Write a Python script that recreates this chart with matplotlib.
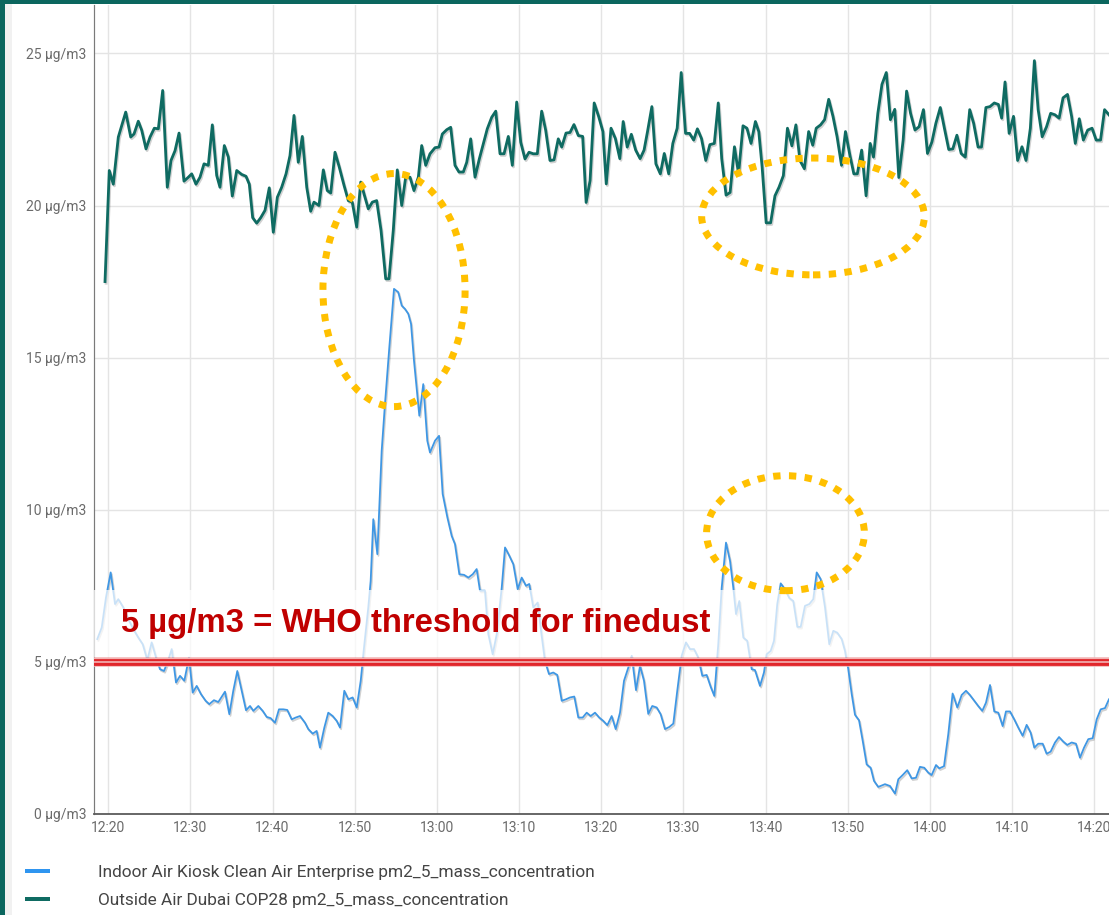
import matplotlib
matplotlib.use("Agg")
import matplotlib.pyplot as plt
from matplotlib.patches import Ellipse, Rectangle
from matplotlib.lines import Line2D
import matplotlib.patheffects as pe

# ---------------- data (time = minutes after 12:00, values in µg/m3) ----------------
tick_labels = ["12:20", "12:30", "12:40", "12:50", "13:00", "13:10", "13:20",
               "13:30", "13:40", "13:50", "14:00", "14:10", "14:20"]
y_ticks = [0, 5, 10, 15, 20, 25]

series_names = ["Indoor Air Kiosk Clean Air Enterprise pm2_5_mass_concentration",
                "Outside Air Dubai COP28 pm2_5_mass_concentration"]

outdoor_minutes = [
    19.61, 20.13, 20.62, 21.23, 22.13, 22.74, 23.14, 23.66, 24.08, 24.6,
    25.09, 25.61, 26.1, 26.63, 27.19, 27.64, 28.13, 28.62, 29.22, 29.75,
    30.16, 30.68, 31.17, 31.66, 32.18, 32.67, 33.2, 33.6, 34.13, 34.62,
    35.1, 35.64, 36.25, 36.77, 37.17, 37.58, 38.07, 38.56, 39.08, 39.6,
    40.09, 40.58, 41.11, 41.64, 42.12, 42.61, 43.13, 43.62, 44.16, 44.64,
    45.04, 45.65, 46.18, 46.66, 47.08, 47.6, 48.12, 48.69, 49.22, 49.7,
    50.24, 50.73, 51.13, 51.65, 52.14, 52.67, 53.2, 53.77, 54.17, 54.69,
    55.18, 55.72, 56.2, 56.73, 57.21, 57.74, 58.15, 58.64, 59.16, 59.77,
    60.26, 60.66, 61.19, 61.68, 62.2, 62.69, 63.21, 63.63, 64.11, 64.64,
    65.16, 65.65, 66.13, 66.67, 67.16, 67.68, 68.17, 68.69, 69.18, 69.71,
    70.2, 70.72, 71.21, 71.73, 72.22, 72.75, 73.24, 73.76, 74.25, 74.77,
    75.19, 75.71, 76.2, 76.68, 77.21, 77.74, 78.16, 78.64, 79.14, 79.68,
    80.2, 80.61, 81.19, 81.72, 82.26, 82.67, 83.16, 83.66, 84.19, 84.73,
    85.21, 85.63, 86.16, 86.65, 87.19, 87.67, 88.21, 88.71, 89.24, 89.73,
    90.26, 90.75, 91.25, 91.7, 92.2, 92.72, 93.22, 93.76, 94.24, 94.66,
    95.19, 95.68, 96.21, 96.71, 97.25, 97.73, 98.23, 98.76, 99.17, 99.58,
    100.07, 100.61, 101.14, 101.63, 102.16, 102.66, 103.2, 103.69, 104.18, 104.72,
    105.24, 105.74, 106.16, 106.69, 107.18, 107.68, 108.2, 108.7, 109.24, 109.72,
    110.26, 110.74, 111.16, 111.69, 112.23, 112.73, 113.13, 113.66, 114.16, 114.69,
    115.19, 115.72, 116.21, 116.74, 117.16, 117.64, 118.18, 118.68, 119.21, 119.7,
    120.24, 120.72, 121.26, 121.76, 122.29, 122.78, 123.28, 123.8, 124.3, 124.84,
    125.32, 125.86, 126.27, 126.81, 127.3, 127.83, 128.33, 128.73, 129.14, 129.64,
    130.17, 130.67, 131.2, 131.69, 132.22, 132.71, 133.17, 133.66, 134.19, 134.69,
    135.22, 135.72, 136.2, 136.74, 137.24, 137.69, 138.17, 138.67, 139.2, 139.73,
    140.23, 140.76, 141.25, 141.79,
]
outdoor_pm25 = [
    17.5, 21.15, 20.7, 22.25, 23.07, 22.25, 22.35, 22.77, 22.47, 21.86,
    22.25, 22.54, 22.52, 23.78, 20.6, 21.48, 21.8, 22.38, 20.8, 20.93,
    21.04, 20.7, 20.93, 21.37, 21.32, 22.65, 20.99, 20.6, 21.97, 21.59,
    20.31, 21.15, 21.02, 20.96, 20.7, 19.6, 19.42, 19.6, 19.84, 20.58,
    19.12, 20.27, 20.6, 21.04, 21.64, 22.96, 21.42, 22.27, 20.6, 19.81,
    20.11, 20.0, 21.17, 20.49, 20.41, 21.75, 21.26, 20.67, 20.16, 20.11,
    19.29, 20.77, 20.38, 19.89, 20.11, 20.16, 19.18, 17.59, 17.59, 19.18,
    21.17, 20.0, 20.93, 20.93, 20.49, 20.93, 21.97, 21.32, 21.7, 21.9,
    21.92, 22.35, 22.49, 22.57, 21.32, 21.1, 21.1, 21.42, 22.19, 20.93,
    21.53, 22.03, 22.52, 22.9, 23.1, 21.7, 21.7, 22.27, 21.32, 23.4,
    22.08, 21.53, 21.75, 21.7, 21.7, 23.1, 22.47, 21.48, 21.5, 22.19,
    21.92, 22.38, 22.4, 22.66, 22.3, 22.27, 20.1, 20.82, 23.37, 22.93,
    22.43, 20.71, 22.54, 22.2, 21.54, 22.76, 21.92, 22.34, 21.82, 21.54,
    21.82, 22.43, 23.25, 21.37, 21.04, 21.71, 21.04, 22.04, 22.54, 24.37,
    22.37, 22.37, 22.15, 22.52, 22.2, 21.48, 22.0, 22.04, 23.37, 21.54,
    20.34, 20.43, 21.93, 21.04, 22.62, 22.54, 22.04, 22.76, 22.43, 21.26,
    19.43, 19.43, 20.32, 20.6, 20.98, 22.54, 21.96, 22.65, 21.48, 21.21,
    22.43, 21.98, 22.54, 22.65, 22.82, 23.49, 22.93, 22.26, 21.32, 22.43,
    21.65, 21.04, 21.04, 21.82, 20.32, 22.04, 21.59, 23.03, 23.98, 24.37,
    22.82, 23.16, 20.92, 22.15, 23.76, 23.03, 22.48, 22.59, 23.15, 21.71,
    22.09, 22.7, 23.22, 22.54, 21.84, 21.86, 22.31, 21.71, 21.59, 23.15,
    22.7, 21.92, 21.92, 23.22, 23.25, 23.37, 23.32, 22.87, 24.06, 22.37,
    22.93, 21.48, 21.93, 21.48, 22.54, 24.76, 23.15, 22.26, 22.59, 23.03,
    22.98, 22.87, 23.54, 23.65, 22.93, 22.04, 22.85, 22.15, 22.48, 22.54,
    22.15, 22.15, 23.15, 22.98,
]

indoor_minutes = [
    18.67, 19.21, 19.73, 20.3, 20.83, 21.23, 21.84, 22.45, 23.05, 23.66,
    24.2, 24.76, 25.29, 25.82, 26.3, 26.79, 27.31, 27.73, 28.25, 28.74,
    29.26, 29.83, 30.28, 30.77, 31.29, 31.86, 32.3, 32.87, 33.4, 34.21,
    34.74, 35.22, 35.71, 36.25, 36.77, 37.26, 37.66, 38.27, 38.8, 39.29,
    39.77, 40.3, 40.78, 41.31, 41.79, 42.33, 42.82, 43.34, 43.95, 44.35,
    44.89, 45.37, 45.77, 46.3, 46.78, 47.32, 47.81, 48.21, 48.73, 49.22,
    49.75, 50.24, 50.73, 51.13, 51.65, 51.94, 52.26, 52.75, 53.28, 53.68,
    54.21, 54.78, 55.3, 55.72, 56.12, 56.52, 56.85, 57.21, 57.61, 57.86,
    58.34, 58.83, 59.16, 59.77, 60.26, 60.7, 61.27, 61.8, 62.2, 62.73,
    63.3, 63.83, 64.36, 64.84, 65.24, 65.85, 66.26, 66.79, 67.28, 67.89,
    68.29, 68.81, 69.3, 69.83, 70.32, 70.84, 71.24, 71.73, 72.27, 72.67,
    73.15, 73.64, 74.16, 74.65, 75.19, 75.71, 76.2, 76.72, 77.21, 77.74,
    78.23, 78.72, 79.24, 79.76, 80.25, 80.74, 81.27, 81.76, 82.28, 82.77,
    83.29, 83.71, 84.23, 84.72, 85.2, 85.72, 86.21, 86.75, 87.23, 87.76,
    88.28, 88.77, 89.25, 89.79, 90.31, 90.8, 91.29, 91.81, 92.3, 92.83,
    93.32, 93.76, 94.24, 94.66, 95.18, 95.67, 96.07, 96.4, 96.8, 97.29,
    97.77, 98.31, 98.71, 99.32, 99.8, 100.13, 100.62, 101.02, 101.42, 101.84,
    102.36, 102.88, 103.37, 103.86, 104.27, 104.79, 105.32, 105.8, 106.22, 106.7,
    107.23, 107.75, 108.24, 108.72, 109.26, 109.66, 110.06, 110.48, 110.88, 111.37,
    111.82, 112.3, 112.79, 113.19, 113.71, 114.53, 115.14, 115.75, 116.15, 116.68,
    117.24, 117.78, 118.3, 118.79, 119.31, 119.8, 120.21, 120.74, 121.14, 121.71,
    122.23, 122.76, 123.33, 123.86, 124.39, 124.87, 125.4, 125.88, 126.37, 126.82,
    127.31, 127.83, 128.32, 128.85, 129.25, 129.74, 130.26, 130.75, 131.28, 131.77,
    132.26, 132.7, 133.18, 133.72, 134.2, 134.69, 135.22, 135.71, 136.23, 136.71,
    137.25, 137.77, 138.26, 138.75, 139.27, 139.8, 140.29, 140.78, 141.3, 141.79,
]
indoor_pm25 = [
    5.75, 6.13, 7.12, 7.94, 6.9, 7.06, 6.79, 6.4, 6.08, 5.8,
    5.58, 5.06, 5.64, 5.14, 4.76, 4.7, 5.06, 5.42, 4.32, 4.54,
    4.38, 5.14, 3.99, 4.21, 3.94, 3.72, 3.61, 3.74, 3.68, 4.02,
    3.28, 4.05, 4.7, 4.05, 3.41, 3.55, 3.39, 3.55, 3.39, 3.19,
    3.15, 3.0, 3.44, 3.44, 3.42, 3.11, 3.17, 3.22, 3.0, 2.79,
    2.64, 2.73, 2.18, 2.84, 3.33, 3.22, 3.06, 2.84, 4.05, 3.77,
    3.83, 3.5, 4.38, 5.47, 6.79, 7.66, 9.69, 8.54, 11.94, 13.48,
    15.34, 17.26, 17.15, 16.71, 16.6, 16.44, 16.11, 14.9, 13.8, 13.09,
    14.13, 12.27, 11.88, 12.27, 12.43, 10.52, 9.75, 9.14, 8.87, 7.88,
    7.86, 7.77, 7.88, 8.05, 7.34, 7.34, 5.91, 5.25, 5.91, 7.44,
    8.76, 8.49, 8.21, 7.39, 7.77, 7.5, 7.56, 6.79, 6.95, 6.02,
    5.03, 4.6, 4.65, 4.57, 3.72, 3.77, 3.83, 3.86, 3.17, 3.17,
    3.33, 3.22, 3.33, 3.17, 3.06, 2.92, 3.22, 2.79, 3.33, 4.38,
    4.81, 5.2, 4.07, 4.87, 4.38, 3.29, 3.55, 3.5, 3.28, 2.79,
    2.86, 2.97, 4.05, 5.2, 5.64, 5.42, 5.42, 5.14, 4.54, 4.57,
    4.18, 3.88, 5.58, 7.44, 8.92, 8.32, 7.44, 6.57, 7.0, 5.8,
    5.69, 4.76, 4.73, 4.21, 4.65, 5.25, 5.36, 5.69, 6.9, 7.58,
    7.39, 7.1, 7.0, 6.15, 6.15, 6.84, 6.9, 7.06, 7.94, 7.72,
    6.79, 5.58, 6.02, 5.96, 5.75, 5.36, 4.76, 3.94, 3.26, 3.08,
    2.4, 1.63, 1.52, 1.09, 0.89, 0.98, 0.92, 0.67, 1.14, 1.28,
    1.44, 1.17, 1.19, 1.55, 1.52, 1.36, 1.28, 1.61, 1.5, 1.57,
    2.62, 3.96, 3.5, 3.91, 4.05, 3.91, 3.72, 3.55, 3.39, 3.66,
    4.24, 3.37, 3.33, 2.89, 3.37, 3.37, 3.11, 2.84, 2.57, 2.93,
    2.67, 2.18, 2.31, 2.31, 1.98, 2.05, 2.35, 2.53, 2.38, 2.27,
    2.35, 2.31, 1.85, 2.18, 2.46, 2.49, 3.11, 3.44, 3.48, 3.77,
]

who_threshold = 5
annotation_text = "5 µg/m3 = WHO threshold for finedust"
# highlighted regions: (centre minute, centre value, width in minutes, height in µg/m3)
highlight_regions = [(54.78, 17.22, 17.3, 7.66),
                     (105.77, 19.64, 27.1, 3.84),
                     (102.42, 9.23, 19.2, 3.78)]

# ---------------- figure ----------------
W, H, DPI = 1109, 915, 100
plt.rcParams["font.family"] = ["Roboto", "DejaVu Sans"]


def px(v):
    return v * 72.0 / DPI


fig = plt.figure(figsize=(W / DPI, H / DPI), dpi=DPI, facecolor="white")
ax = fig.add_axes([94 / W, (H - 814) / H, (W - 94) / W, (814 - 5) / H])
ax.set_facecolor("white")
ax.set_xlim(18.27, 141.79)
ax.set_ylim(0, 26.59)

tick_pos = [int(t.split(":")[0]) * 60 + int(t.split(":")[1]) - 720 for t in tick_labels]
ax.set_xticks(tick_pos)
ax.set_xticklabels(tick_labels)
ax.set_yticks(y_ticks)
ax.set_yticklabels([f"{v} µg/m3" for v in y_ticks])
ax.tick_params(axis="x", length=0, pad=px(7), labelsize=10, labelcolor="#6b6b6b")
ax.tick_params(axis="y", length=0, pad=px(8), labelsize=10, labelcolor="#6b6b6b")
ax.grid(True, color="#e4e4e4", lw=px(1.4), zorder=0)
ax.set_axisbelow(True)
for s in ("top", "right"):
    ax.spines[s].set_visible(False)
ax.spines["left"].set_color("#7a7a7a")
ax.spines["left"].set_linewidth(px(1.2))
ax.spines["bottom"].set_color("#5a5a5a")
ax.spines["bottom"].set_linewidth(px(1.8))

blue = "#3f97e4"
teal = "#0f6b62"
shadow = [pe.SimpleLineShadow(offset=(0.8, -1.2), shadow_color="black", alpha=0.18), pe.Normal()]
ax.plot(indoor_minutes, indoor_pm25, color=blue, lw=px(1.8), zorder=2,
        path_effects=shadow, solid_joinstyle="round")
ax.plot(outdoor_minutes, outdoor_pm25, color=teal, lw=px(2.8), zorder=2.1,
        path_effects=shadow, solid_joinstyle="round")

# translucent box behind the annotation text
ax.add_patch(Rectangle((18.27, 5.16), 120.0 - 18.27, 2.2, facecolor="white",
                       edgecolor="none", alpha=0.72, zorder=3))
# WHO threshold band
ax.axhline(who_threshold, color="#f2b3b3", lw=px(9.5), zorder=4)
ax.axhline(who_threshold, color="#e1262b", lw=px(6.8), zorder=4.1)
ax.axhline(who_threshold, color="#f4c4c4", lw=px(1.5), zorder=4.2)

ax.text(21.5, 5.98, annotation_text, color="#c00000", fontsize=23.7,
        fontweight="bold", family=["Liberation Sans", "DejaVu Sans"],
        ha="left", va="baseline", zorder=6)

for cx, cy, w, h in highlight_regions:
    ax.add_patch(Ellipse((cx, cy), w, h, fill=False, edgecolor="#ffc000",
                         lw=px(7), linestyle=(0, (1.05, 1.2)), zorder=7))

# legend
handles = [Line2D([], [], color="#2f95f0", lw=px(4)),
           Line2D([], [], color=teal, lw=px(4))]
legend_fs = 12.45
fs_px = legend_fs * DPI / 72
fig.legend(handles, series_names, loc="upper left",
           bbox_to_anchor=(27 / W, 1 - 865 / H), frameon=False, fontsize=legend_fs,
           handlelength=21 / fs_px, handletextpad=50 / fs_px, labelspacing=0.75,
           borderpad=0, borderaxespad=0, labelcolor="#444444")

# frame of the screenshot
frame = "#0b665e"
fig.add_artist(Rectangle((5 / W, 0), 7 / W, 1, transform=fig.transFigure,
                         facecolor="#f1f1f1", edgecolor="none", zorder=-1))
fig.add_artist(Rectangle((0, 1 - 4 / H), 1, 4 / H, transform=fig.transFigure,
                         facecolor=frame, edgecolor="none", zorder=10))
fig.add_artist(Rectangle((0, 0), 5 / W, 1, transform=fig.transFigure,
                         facecolor=frame, edgecolor="none", zorder=10))

fig.savefig("out.png", dpi=DPI, facecolor="white")
